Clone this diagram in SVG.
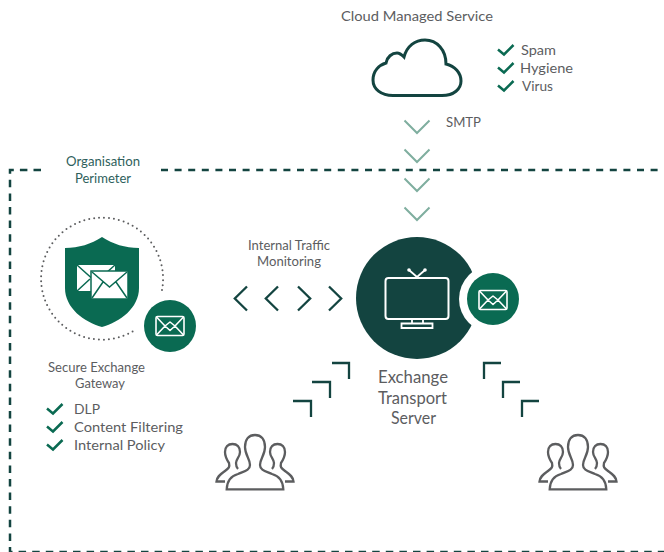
<svg xmlns="http://www.w3.org/2000/svg" width="664" height="552" viewBox="0 0 664 552">
<defs>
<style>
text{font-family:Lato,"Open Sans","Liberation Sans",sans-serif;fill:#5c5d5f;font-size:14px}
.org{fill:#2f5f5c}
.srv{font-size:17px}
.chk{fill:none;stroke:#0a6a52;stroke-width:2.500}
.chv{fill:none;stroke:#7fae9f;stroke-width:2}
.arr{fill:none;stroke:#134440;stroke-width:2.300}
.env{fill:none;stroke:#fff;stroke-width:1.600;stroke-linejoin:round}
.ppl{fill:none;stroke:#5c5d5f;stroke-width:2.300}
</style>
<g id="mail"><rect x="-14" y="-9.500" width="28" height="19" rx="1.500" class="env"/><path class="env" d="M-13.500-9-5 0 0-4 5 0 13.500-9M-13.500 9-5 0 0 4.500 5 0 13.500 9"/></g>
<g id="people"><path class="ppl" d="M226.700 489.300H283.300C283 480 279 476 272 474 265 471 260 470 260 465 260 459 265 455 265 447 265 439 261 435 255 435 249 435 245 439 245 447 245 455 250 459 250 465 250 470 245 471 238 474 231 476 227 480 226.700 489.300Z"/><path class="ppl" d="M225 481.500H216.500C217 476 221 474 225 471 229 468 230 467 229 463 227 460 225 457 225 452 225 447 228 444 232.500 444 237 444 240 447 240 452 240 457 236 459 236 463 236 466 237 468 238 469"/><path class="ppl" d="M285 481.500H293.500C293 476 289 474 285 471 281 468 280 467 281 463 283 460 285 457 285 452 285 447 282 444 277.500 444 273 444 270 447 270 452 270 457 274 459 274 463 274 466 273 468 272 469"/></g>
<path id="c" class="chk" d="M0 5.500 6 10.500 15.500 1"/>
<path id="dn" class="chv" d="M404.500 120.500 417 133 429.500 120.500"/>
</defs>
<g id="connectors">
<path d="M41 170H10V552H664" fill="none" stroke="#134440" stroke-width="2.500" stroke-dasharray="7.500 6.100"/>
<path d="M161 170H664" fill="none" stroke="#134440" stroke-width="2.500" stroke-dasharray="7 6.600"/>
<use href="#dn"/><use href="#dn" y="29"/><use href="#dn" y="58"/><use href="#dn" y="87"/>
<path class="arr" d="M247 286.500 234.800 298.500 247 310.500M278 286.500 265.800 298.500 278 310.500M298 286.500 310.200 298.500 298 310.500M329 286.500 341.200 298.500 329 310.500"/>
<path class="arr" d="M332 363H349V379M312 382H330V398M293 401H311V417M501 363H484V379M520 382H503V398M539 401H522V417"/>
</g>
<g id="cloud-service">
<path d="M393 95.500C381 95.500 373 89 373 80 373 71 379 65 386 63 387 57 392 53 397 53 400 53 402 55 404 57 407 46 415 40 425 40 437 40 446 50 446 64 455 66 461 73 461 81 461 89 454 95.500 442 95.500Z" fill="none" stroke="#134440" stroke-width="3"/>
<text x="341" y="21" textLength="152" lengthAdjust="spacingAndGlyphs">Cloud Managed Service</text>
<use href="#c" x="498" y="44"/><use href="#c" x="498" y="62"/><use href="#c" x="498" y="80"/>
<text x="521" y="55" textLength="35" lengthAdjust="spacingAndGlyphs">Spam</text>
<text x="520" y="73" textLength="53" lengthAdjust="spacingAndGlyphs">Hygiene</text>
<text x="522" y="91" textLength="31" lengthAdjust="spacingAndGlyphs">Virus</text>
</g>
<g id="smtp-label"><text x="446" y="127" textLength="35" lengthAdjust="spacingAndGlyphs">SMTP</text></g>
<g id="perimeter-label">
<text class="org" x="66" y="166" textLength="74" lengthAdjust="spacingAndGlyphs">Organisation</text>
<text class="org" x="75" y="183" textLength="56" lengthAdjust="spacingAndGlyphs">Perimeter</text>
</g>
<g id="traffic-label">
<text x="248" y="250" textLength="82" lengthAdjust="spacingAndGlyphs">Internal Traffic</text>
<text x="257" y="266" textLength="64" lengthAdjust="spacingAndGlyphs">Monitoring</text>
</g>
<g id="gateway">
<path d="M162 290A61 61 0 1 0 135 330" fill="none" stroke="#5c5d5f" stroke-width="2" stroke-linecap="round" stroke-dasharray="0 5"/>
<path d="M102 237C91 244 79 248 65 248V288C65 308 84 322 102 327 120 322 139 308 139 288V248C125 248 113 244 102 237Z" fill="#0a6a52"/>
<rect x="77" y="265" width="38" height="26" fill="#fff"/>
<path d="M77 265 96 282 115 265M77 291 90 279" fill="none" stroke="#0a6a52" stroke-width="1.500"/>
<rect x="91" y="271" width="37" height="28" fill="#fff" stroke="#0a6a52" stroke-width="1.500"/>
<path d="M92 272 109.500 287 127 272M92 298 103 282M127 298 116 282" fill="none" stroke="#0a6a52" stroke-width="1.500"/>
<circle cx="170" cy="326" r="26" fill="#0a6a52"/>
<use href="#mail" x="170" y="326"/>
<text x="48" y="372" textLength="97" lengthAdjust="spacingAndGlyphs">Secure Exchange</text>
<text x="75" y="388" textLength="50" lengthAdjust="spacingAndGlyphs">Gateway</text>
<use href="#c" x="47" y="403"/><use href="#c" x="47" y="421"/><use href="#c" x="47" y="439"/>
<text x="74" y="414" textLength="26" lengthAdjust="spacingAndGlyphs">DLP</text>
<text x="74" y="432" textLength="109" lengthAdjust="spacingAndGlyphs">Content Filtering</text>
<text x="74" y="450" textLength="91" lengthAdjust="spacingAndGlyphs">Internal Policy</text>
</g>
<g id="server">
<circle cx="417" cy="298" r="61" fill="#134440"/>
<circle cx="493" cy="299" r="34" fill="#fff"/>
<circle cx="493" cy="299" r="26" fill="#0a6a52"/>
<use href="#mail" x="493" y="300"/>
<rect x="385.500" y="278" width="63" height="41" rx="3" fill="none" stroke="#fff" stroke-width="2"/>
<path d="M409 270 417 277 425 270M412 319V323M423 319V323M401.500 328V323.500H432.500V328Z" fill="none" stroke="#fff" stroke-width="1.800"/>
<circle cx="409" cy="270" r="1.800" fill="#fff"/><circle cx="425" cy="270" r="1.800" fill="#fff"/>
<text class="srv" x="378" y="383" textLength="70" lengthAdjust="spacingAndGlyphs">Exchange</text>
<text class="srv" x="378" y="404" textLength="69" lengthAdjust="spacingAndGlyphs">Transport</text>
<text class="srv" x="391" y="424" textLength="45" lengthAdjust="spacingAndGlyphs">Server</text>
</g>
<g id="users-left"><use href="#people"/></g>
<g id="users-right"><use href="#people" x="323"/></g>
</svg>
